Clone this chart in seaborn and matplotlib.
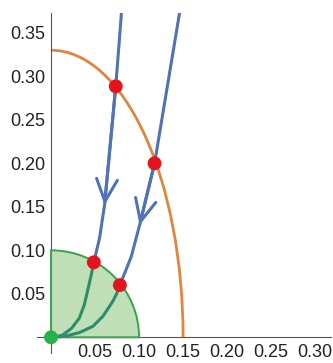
import numpy as np
import pandas as pd
import matplotlib
matplotlib.use("Agg")
import matplotlib.pyplot as plt
from matplotlib.patches import Wedge, Arc
from matplotlib.ticker import MultipleLocator, FixedLocator
import seaborn as sns

# --- data -------------------------------------------------------------
# outer boundary: quarter ellipse with semi-axes (a, b)
ellipse_a = 0.15
ellipse_b = 0.33
# target region: quarter disc of radius r
disc_r = 0.10

# trajectory 1: incoming (blue) part and final (teal) part
traj1_in_x = [0.080, 0.0735, 0.0608, 0.0551, 0.0486]
traj1_in_y = [0.373, 0.2885, 0.152, 0.114, 0.0862]
traj1_out_x = [0.0486, 0.0455, 0.0422, 0.0377, 0.032, 0.0233, 0.0131, 0.006, 0.0]
traj1_out_y = [0.0862, 0.071, 0.0563, 0.0371, 0.0218, 0.0103, 0.0026, 0.0006, 0.0]

# trajectory 2
traj2_in_x = [0.146, 0.1176, 0.1006, 0.0911, 0.0782]
traj2_in_y = [0.373, 0.200, 0.129, 0.0926, 0.060]
traj2_out_x = [0.0782, 0.0745, 0.0702, 0.0589, 0.0475, 0.0324, 0.016, 0.0]
traj2_out_y = [0.060, 0.050, 0.0414, 0.0241, 0.0126, 0.0055, 0.0012, 0.0]

# crossing points (ellipse and disc boundary)
cross_x = [0.0735, 0.1176, 0.0486, 0.0782]
cross_y = [0.2885, 0.200, 0.0862, 0.060]

# equilibrium
eq_x = [0.0]
eq_y = [0.0]

# arrow positions: (tail index, tip index) along the incoming paths
arrow1 = (1, 2)
arrow2 = (1, 2)

xticks = [0.05, 0.10, 0.15, 0.20, 0.25, 0.30]
yticks = [0.05, 0.10, 0.15, 0.20, 0.25, 0.30, 0.35]

# --- style -----------------------------------------------------------
sns.set_style("white")
plt.rcParams["font.family"] = ["Liberation Sans", "DejaVu Sans"]

blue = "#4f73b6"
orange = "#e2843c"
green_edge = "#3aa34a"
green_fill = "#bfe0b6"
teal = "#2f8c68"
red = "#e5141c"
green_dot = "#25b24a"
axis_grey = "#555555"

fig = plt.figure(figsize=(3.33, 3.63), dpi=100)
ax = fig.add_axes([36.5 / 333, 9.6 / 363, 294.5 / 333, 340.6 / 363])
ax.set_xlim(-0.0165, 0.318)
ax.set_ylim(-0.0185, 0.373)
ax.set_axisbelow(False)

# target disc: fill below the axes, outline on top of them
ax.add_patch(Wedge((0, 0), disc_r, 0, 90, facecolor=green_fill, edgecolor="none",
                   zorder=1))
ax.add_patch(Wedge((0, 0), disc_r, 0, 90, facecolor="none", edgecolor=green_edge,
                   lw=1.4, zorder=2.6))
# outer ellipse
ax.add_patch(Arc((0, 0), 2 * ellipse_a, 2 * ellipse_b, theta1=0, theta2=90,
                 color=orange, lw=2.0, zorder=2))

def path(x, y, color):
    df = pd.DataFrame({"x": x, "y": y})
    sns.lineplot(data=df, x="x", y="y", sort=False, estimator=None, ax=ax,
                 color=color, lw=2.2, zorder=3)

path(traj1_in_x, traj1_in_y, blue)
path(traj2_in_x, traj2_in_y, blue)
path(traj1_out_x, traj1_out_y, teal)
path(traj2_out_x, traj2_out_y, teal)

for (xs, ys), (i0, i1) in [((traj1_in_x, traj1_in_y), arrow1),
                           ((traj2_in_x, traj2_in_y), arrow2)]:
    ax.annotate("", xy=(xs[i1], ys[i1]), xytext=(xs[i0], ys[i0]),
                arrowprops=dict(arrowstyle="->,head_length=1.6,head_width=0.75",
                                mutation_scale=10, lw=2.2, color=blue,
                                shrinkA=0, shrinkB=0),
                zorder=3)

sns.scatterplot(x=cross_x, y=cross_y, ax=ax, s=100, color=red, edgecolor="none",
                zorder=5)
sns.scatterplot(x=eq_x, y=eq_y, ax=ax, s=100, color=green_dot, edgecolor="none",
                zorder=5, clip_on=False)

# axes through the origin
for side in ["top", "right"]:
    ax.spines[side].set_visible(False)
for side in ["left", "bottom"]:
    ax.spines[side].set_position(("data", 0))
    ax.spines[side].set_color(axis_grey)
    ax.spines[side].set_linewidth(0.8)
ax.set_xlabel("")
ax.set_ylabel("")

ax.xaxis.set_major_locator(FixedLocator(xticks))
ax.yaxis.set_major_locator(FixedLocator(yticks))
ax.xaxis.set_minor_locator(MultipleLocator(0.01))
ax.yaxis.set_minor_locator(MultipleLocator(0.01))
ax.set_xticklabels([f"{t:.2f}" for t in xticks])
ax.set_yticklabels([f"{t:.2f}" for t in yticks])
ax.tick_params(which="both", direction="in", color=axis_grey, width=0.7,
               labelsize=13, labelcolor="#222222")
ax.tick_params(which="major", length=4, pad=4)
ax.tick_params(which="minor", length=2)
ax.tick_params(axis="x", which="major", pad=5)

fig.savefig("out.png", dpi=100)
